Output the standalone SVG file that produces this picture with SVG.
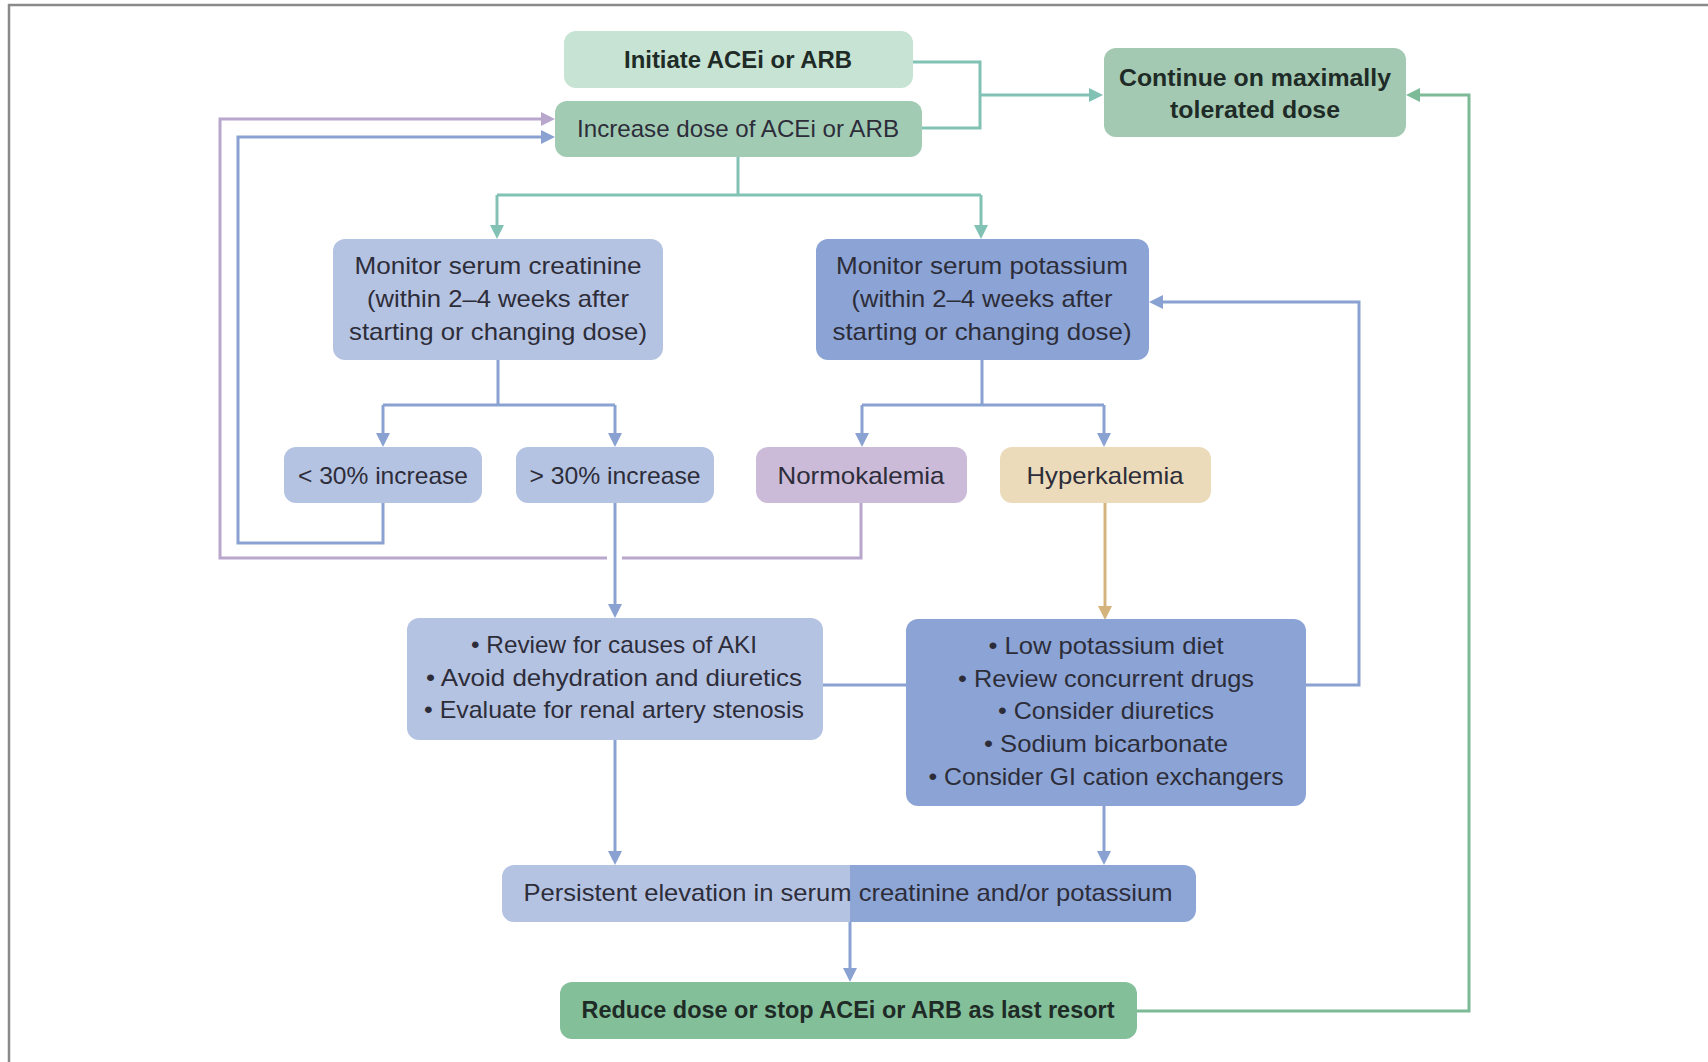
<svg xmlns="http://www.w3.org/2000/svg" width="1708" height="1062" viewBox="0 0 1708 1062">
<style>
.t{font-family:"Liberation Sans",Arial,sans-serif;font-size:24px;fill:#2d2d3a;text-anchor:middle}
.b{font-weight:bold;fill:#1f2b26}
.c{fill:none;stroke-width:3}
.teal{stroke:#82c2b5}
.blue{stroke:#8aa2d2}
.purple{stroke:#b8a6cc}
.tan{stroke:#d4b47c}
.green{stroke:#7dbb98}
.lb{fill:#b5c3e2}
.db{fill:#8ba4d5}
</style>
<defs>
<marker id="mTeal" viewBox="0 0 14 14" markerWidth="14" markerHeight="14" refX="6" refY="7" orient="auto" markerUnits="userSpaceOnUse"><path d="M0,0 L14,7 L0,14 Z" fill="#82c2b5"/></marker>
<marker id="mBlue" viewBox="0 0 14 14" markerWidth="14" markerHeight="14" refX="6" refY="7" orient="auto" markerUnits="userSpaceOnUse"><path d="M0,0 L14,7 L0,14 Z" fill="#8aa2d2"/></marker>
<marker id="mPurple" viewBox="0 0 14 14" markerWidth="14" markerHeight="14" refX="6" refY="7" orient="auto" markerUnits="userSpaceOnUse"><path d="M0,0 L14,7 L0,14 Z" fill="#b8a6cc"/></marker>
<marker id="mTan" viewBox="0 0 14 14" markerWidth="14" markerHeight="14" refX="6" refY="7" orient="auto" markerUnits="userSpaceOnUse"><path d="M0,0 L14,7 L0,14 Z" fill="#d4b47c"/></marker>
<marker id="mGreen" viewBox="0 0 14 14" markerWidth="14" markerHeight="14" refX="6" refY="7" orient="auto" markerUnits="userSpaceOnUse"><path d="M0,0 L14,7 L0,14 Z" fill="#7dbb98"/></marker>
<linearGradient id="split" x1="0" y1="0" x2="1" y2="0">
<stop offset="0" stop-color="#b5c3e2"/><stop offset="0.5014" stop-color="#b5c3e2"/><stop offset="0.5014" stop-color="#8ea6d6"/><stop offset="1" stop-color="#8ea6d6"/>
</linearGradient>
</defs>
<rect x="0" y="0" width="1708" height="1062" fill="#ffffff"/>
<g id="frame" stroke="#8a8a8a" stroke-width="2.5" fill="none">
<path d="M8,5 H1708"/>
<path d="M9,4 V1062"/>
</g>

<g id="connectors">
<path class="c teal" d="M913,62 H980 V128 H922"/>
<path class="c teal" d="M980,95 H1095" marker-end="url(#mTeal)"/>
<path class="c teal" d="M738,157 V195"/>
<path class="c teal" d="M497,195 H981"/>
<path class="c teal" d="M497,195 V231" marker-end="url(#mTeal)"/>
<path class="c teal" d="M981,195 V231" marker-end="url(#mTeal)"/>

<path class="c blue" d="M498,360 V405"/>
<path class="c blue" d="M383,405 H615"/>
<path class="c blue" d="M383,405 V439" marker-end="url(#mBlue)"/>
<path class="c blue" d="M615,405 V439" marker-end="url(#mBlue)"/>
<path class="c blue" d="M982,360 V405"/>
<path class="c blue" d="M862,405 H1104"/>
<path class="c blue" d="M862,405 V439" marker-end="url(#mBlue)"/>
<path class="c blue" d="M1104,405 V439" marker-end="url(#mBlue)"/>

<path class="c purple" d="M861,503 V558 H622 M607,558 H220 V119 H547" marker-end="url(#mPurple)"/>
<path class="c blue" d="M383,503 V543 H238 V137 H547" marker-end="url(#mBlue)"/>
<path class="c blue" d="M615,503 V610" marker-end="url(#mBlue)"/>
<path class="c tan" d="M1105,503 V612" marker-end="url(#mTan)"/>

<path class="c blue" d="M823,685 H906"/>
<path class="c blue" d="M1306,685 H1359 V302 H1157" marker-end="url(#mBlue)"/>
<path class="c blue" d="M615,740 V857" marker-end="url(#mBlue)"/>
<path class="c blue" d="M1104,806 V857" marker-end="url(#mBlue)"/>
<path class="c blue" d="M850,922 V974" marker-end="url(#mBlue)"/>

<path class="c green" d="M1137,1011 H1469 V95 H1414" marker-end="url(#mGreen)"/>
</g>

<g id="initiate">
<rect x="564" y="31" width="349" height="57" rx="12" fill="#c6e3d3"/>
<text class="t b" x="738" y="68" textLength="228" lengthAdjust="spacingAndGlyphs">Initiate ACEi or ARB</text>
</g>
<g id="increase">
<rect x="555" y="101" width="367" height="56" rx="12" fill="#a2cbb4"/>
<text class="t" x="738" y="137" textLength="322" lengthAdjust="spacingAndGlyphs">Increase dose of ACEi or ARB</text>
</g>
<g id="continue">
<rect x="1104" y="48" width="302" height="89" rx="12" fill="#a3c9b2"/>
<text class="t b" x="1255" y="86" textLength="272" lengthAdjust="spacingAndGlyphs">Continue on maximally</text>
<text class="t b" x="1255" y="118" textLength="170" lengthAdjust="spacingAndGlyphs">tolerated dose</text>
</g>
<g id="monitor-creatinine">
<rect class="lb" x="333" y="239" width="330" height="121" rx="12"/>
<text class="t" x="498" y="274" textLength="287" lengthAdjust="spacingAndGlyphs">Monitor serum creatinine</text>
<text class="t" x="498" y="307" textLength="262" lengthAdjust="spacingAndGlyphs">(within 2–4 weeks after</text>
<text class="t" x="498" y="340" textLength="298" lengthAdjust="spacingAndGlyphs">starting or changing dose)</text>
</g>
<g id="monitor-potassium">
<rect class="db" x="816" y="239" width="333" height="121" rx="12"/>
<text class="t" x="982" y="274" textLength="292" lengthAdjust="spacingAndGlyphs">Monitor serum potassium</text>
<text class="t" x="982" y="307" textLength="261" lengthAdjust="spacingAndGlyphs">(within 2–4 weeks after</text>
<text class="t" x="982" y="340" textLength="299" lengthAdjust="spacingAndGlyphs">starting or changing dose)</text>
</g>
<g id="lt30">
<rect class="lb" x="284" y="447" width="198" height="56" rx="12"/>
<text class="t" x="383" y="484" textLength="170" lengthAdjust="spacingAndGlyphs">&lt; 30% increase</text>
</g>
<g id="gt30">
<rect class="lb" x="516" y="447" width="198" height="56" rx="12"/>
<text class="t" x="615" y="484" textLength="171" lengthAdjust="spacingAndGlyphs">&gt; 30% increase</text>
</g>
<g id="normokalemia">
<rect x="756" y="447" width="211" height="56" rx="12" fill="#cbbbd9"/>
<text class="t" x="861" y="484" textLength="167" lengthAdjust="spacingAndGlyphs">Normokalemia</text>
</g>
<g id="hyperkalemia">
<rect x="1000" y="447" width="211" height="56" rx="12" fill="#ebdbbb"/>
<text class="t" x="1105" y="484" textLength="157" lengthAdjust="spacingAndGlyphs">Hyperkalemia</text>
</g>
<g id="review">
<rect class="lb" x="407" y="618" width="416" height="122" rx="12"/>
<text class="t" x="614" y="653" textLength="286" lengthAdjust="spacingAndGlyphs">• Review for causes of AKI</text>
<text class="t" x="614" y="686" textLength="376" lengthAdjust="spacingAndGlyphs">• Avoid dehydration and diuretics</text>
<text class="t" x="614" y="718" textLength="380" lengthAdjust="spacingAndGlyphs">• Evaluate for renal artery stenosis</text>
</g>
<g id="potassium-actions">
<rect class="db" x="906" y="619" width="400" height="187" rx="12"/>
<text class="t" x="1106" y="654" textLength="235" lengthAdjust="spacingAndGlyphs">• Low potassium diet</text>
<text class="t" x="1106" y="687" textLength="296" lengthAdjust="spacingAndGlyphs">• Review concurrent drugs</text>
<text class="t" x="1106" y="719" textLength="216" lengthAdjust="spacingAndGlyphs">• Consider diuretics</text>
<text class="t" x="1106" y="752" textLength="244" lengthAdjust="spacingAndGlyphs">• Sodium bicarbonate</text>
<text class="t" x="1106" y="785" textLength="355" lengthAdjust="spacingAndGlyphs">• Consider GI cation exchangers</text>
</g>
<g id="persistent">
<rect x="502" y="865" width="694" height="57" rx="12" fill="url(#split)"/>
<text class="t" x="848" y="901" textLength="649" lengthAdjust="spacingAndGlyphs">Persistent elevation in serum creatinine and/or potassium</text>
</g>
<g id="reduce">
<rect x="560" y="982" width="577" height="57" rx="12" fill="#83c09a"/>
<text class="t b" x="848" y="1018" textLength="533" lengthAdjust="spacingAndGlyphs">Reduce dose or stop ACEi or ARB as last resort</text>
</g>
</svg>
